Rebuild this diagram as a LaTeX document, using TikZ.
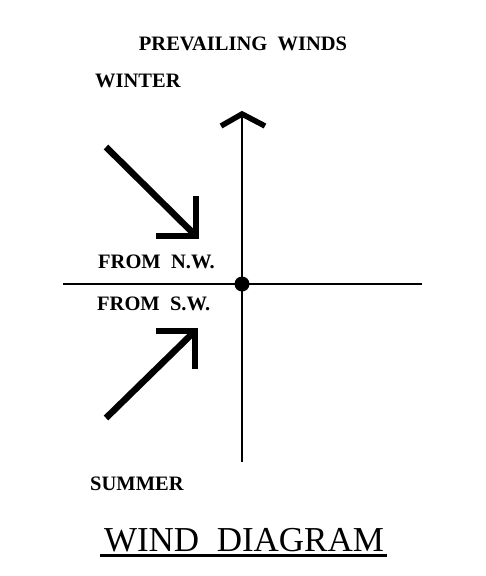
\documentclass[tikz,border=0pt]{standalone}
\usepackage{fontspec}
\usepackage{tikz}
\usetikzlibrary{calc}
\setmainfont{Liberation Serif}
\tikzset{
  windlabel/.style={font=\bfseries\fontsize{20.5}{20.5}\selectfont, inner sep=0pt},
  titlelabel/.style={font=\fontsize{35}{35}\selectfont, inner sep=0pt},
  axisline/.style={line width=2pt},
  windarrow/.style={line width=6.5pt, line join=miter},
}
\begin{document}
\begin{tikzpicture}[x=1pt,y=-1pt]
  \useasboundingbox (0,0) rectangle (485,576);

  % axes
  \node[circle, fill=black, inner sep=0pt, minimum size=15pt] (centre) at (242,284) {};
  \coordinate (west) at (63,284);
  \coordinate (east) at (422,284);
  \coordinate (north) at (242,114);
  \coordinate (south) at (242,462);
  \draw[axisline] (west) -- (east);
  \draw[axisline] (south) -- (north);
  \draw[line width=5.5pt, line join=miter] ($(north)+(-21,12)$) -- (north) -- ($(north)+(23,12)$);

  % winter wind
  \coordinate (nwtail) at (106,147);
  \coordinate (nwtip) at (196,236);
  \draw[windarrow] (nwtail) -- (nwtip);
  \draw[windarrow] ($(nwtip)+(0,-40)$) -- (nwtip) -- ($(nwtip)+(-40,0)$);

  % summer wind
  \coordinate (swtail) at (106,418);
  \coordinate (swtip) at (195,331);
  \draw[windarrow] (swtail) -- (swtip);
  \draw[windarrow] ($(swtip)+(-39,0)$) -- (swtip) -- ($(swtip)+(0,38)$);

  % labels
  \node[windlabel, anchor=base] (prevailing) at (243,50) {PREVAILING\ \ WINDS};
  \node[windlabel, anchor=base west] (winter) at (95,87) {WINTER};
  \node[windlabel, anchor=base west] (fromnw) at (98,268) {FROM\ \ N.W.};
  \node[windlabel, anchor=base west] (fromsw) at (97,310) {FROM\ \ S.W.};
  \node[windlabel, anchor=base west] (summer) at (90,490) {SUMMER};

  \node[titlelabel, anchor=base] (title) at (244,551) {WIND\ \ DIAGRAM};
  \draw[line width=3pt] ([shift={(-4,4)}]title.base west) -- ([shift={(3,4)}]title.base east);
\end{tikzpicture}
\end{document}
